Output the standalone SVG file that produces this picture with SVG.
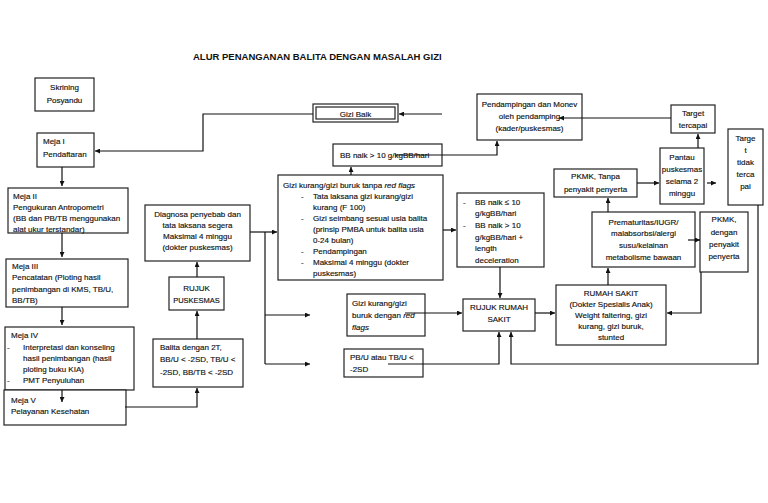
<svg xmlns="http://www.w3.org/2000/svg" width="768" height="503" viewBox="0 0 768 503">
<defs>
<marker id="ah" viewBox="0 0 10 10" refX="10" refY="5" markerWidth="5" markerHeight="5" orient="auto" markerUnits="userSpaceOnUse">
<path d="M0,0 L10,5 L0,10 z" fill="#111"/>
</marker>
<style>
.box{fill:#fff;stroke:#222;stroke-width:1.2}
text{font-family:"Liberation Sans",Arial,sans-serif;font-size:8px;fill:#111;stroke:#111;stroke-width:0.15}
.c{text-anchor:middle}
.i{font-style:italic}
.title{font-weight:bold;font-size:9.5px;stroke-width:0}
#connectors path{fill:none;stroke:#111;stroke-width:1.2}
.a{marker-end:url(#ah)}
</style>
</defs>
<rect width="768" height="503" fill="#fff"/>
<text class="title" x="193" y="60">ALUR PENANGANAN BALITA DENGAN MASALAH GIZI</text>

<g id="skrining">
<rect class="box" x="35" y="78" width="59" height="33"/>
<text class="c" x="64.5" y="90">Skrining</text>
<text class="c" x="64.5" y="103">Posyandu</text>
</g>
<g id="meja1">
<rect class="box" x="37" y="133" width="57" height="34"/>
<text x="43" y="144">Meja I</text>
<text x="43" y="157">Pendaftaran</text>
</g>
<g id="meja2">
<rect class="box" x="8" y="188" width="120" height="45"/>
<text x="13" y="199">Meja II</text>
<text x="13" y="210">Pengukuran Antropometri</text>
<text x="13" y="221">(BB dan PB/TB menggunakan</text>
<text x="13" y="232">alat ukur terstandar)</text>
</g>
<g id="meja3">
<rect class="box" x="6" y="259" width="122" height="48"/>
<text x="12" y="269">Meja III</text>
<text x="12" y="280">Pencatatan (Ploting hasil</text>
<text x="12" y="292">penimbangan di KMS, TB/U,</text>
<text x="12" y="303">BB/TB)</text>
</g>
<g id="meja4">
<rect class="box" x="5" y="327" width="129" height="63"/>
<text x="11" y="338">Meja IV</text>
<text x="7" y="350">-</text>
<text x="23" y="350">Interpretasi dan konseling</text>
<text x="23" y="361">hasil penimbangan (hasil</text>
<text x="23" y="372">ploting buku KIA)</text>
<text x="7" y="383">-</text>
<text x="23" y="383">PMT Penyuluhan</text>
</g>
<g id="meja5">
<rect class="box" x="4" y="390" width="122" height="35"/>
<text x="11" y="403">Meja V</text>
<text x="11" y="414">Pelayanan Kesehatan</text>
</g>
<g id="balita">
<rect class="box" x="153" y="339" width="90" height="48"/>
<text x="160" y="350">Balita dengan 2T,</text>
<text x="160" y="362">BB/U &lt; -2SD, TB/U &lt;</text>
<text x="160" y="375">-2SD, BB/TB &lt; -2SD</text>
</g>
<g id="rujuk-puskesmas">
<rect class="box" x="169" y="277" width="55" height="33"/>
<text class="c" x="196.5" y="291">RUJUK</text>
<text class="c" x="196.5" y="303" style="font-size:7.5px">PUSKESMAS</text>
</g>
<g id="diagnosa">
<rect class="box" x="145" y="205" width="105" height="56"/>
<text class="c" x="197.5" y="217">Diagnosa penyebab dan</text>
<text class="c" x="197.5" y="228">tata laksana segera</text>
<text class="c" x="197.5" y="239">Maksimal 4 minggu</text>
<text class="c" x="197.5" y="250">(dokter puskesmas)</text>
</g>
<g id="gizi-kurang-tanpa">
<rect class="box" x="278" y="175" width="165" height="105"/>
<text x="283" y="188">Gizi kurang/gizi buruk tanpa <tspan class="i">red flags</tspan></text>
<text x="301" y="199">-</text>
<text x="313" y="199">Tata laksana gizi kurang/gizi</text>
<text x="313" y="210">kurang (F 100)</text>
<text x="301" y="221">-</text>
<text x="313" y="221">Gizi seimbang sesuai usia balita</text>
<text x="313" y="232">(prinsip PMBA untuk balita usia</text>
<text x="313" y="243">0-24 bulan)</text>
<text x="301" y="254">-</text>
<text x="313" y="254">Pendampingan</text>
<text x="301" y="265">-</text>
<text x="313" y="265">Maksimal 4 minggu (dokter</text>
<text x="313" y="276">puskesmas)</text>
</g>
<g id="bb-naik-lebih">
<rect class="box" x="333" y="144" width="109" height="22"/>
<text x="340" y="158">BB naik &gt; 10 g/kgBB/hari</text>
</g>
<g id="gizi-baik">
<rect class="box" x="313" y="104" width="85" height="18"/>
<rect class="box" x="316" y="107" width="79" height="12"/>
<text class="c" x="355.5" y="116.5">Gizi Baik</text>
</g>
<g id="pendampingan">
<rect class="box" x="477" y="94" width="105" height="46"/>
<text class="c" x="529.5" y="107">Pendampingan dan Monev</text>
<text class="c" x="529.5" y="119">oleh pendamping</text>
<text class="c" x="529.5" y="131">(kader/puskesmas)</text>
</g>
<g id="target-tercapai">
<rect class="box" x="671" y="105" width="44" height="28"/>
<text class="c" x="693" y="116">Target</text>
<text class="c" x="693" y="128">tercapai</text>
</g>
<g id="target-tidak">
<rect class="box" x="728" y="129" width="35" height="76"/>
<text class="c" x="745.5" y="141">Targe</text>
<text class="c" x="745.5" y="153">t</text>
<text class="c" x="745.5" y="165">tidak</text>
<text class="c" x="745.5" y="177">terca</text>
<text class="c" x="745.5" y="189">pai</text>
</g>
<g id="pantau">
<rect class="box" x="660" y="148" width="44" height="56"/>
<text class="c" x="682" y="160">Pantau</text>
<text class="c" x="682" y="172">puskesmas</text>
<text class="c" x="682" y="184">selama 2</text>
<text class="c" x="682" y="196">minggu</text>
</g>
<g id="pkmk-tanpa">
<rect class="box" x="554" y="169" width="83" height="28"/>
<text class="c" x="595.5" y="179">PKMK, Tanpa</text>
<text class="c" x="595.5" y="192">penyakit penyerta</text>
</g>
<g id="prematuritas">
<rect class="box" x="592" y="212" width="103" height="55"/>
<text class="c" x="643.5" y="225">Prematuritas/IUGR/</text>
<text class="c" x="643.5" y="236">malabsorbsi/alergi</text>
<text class="c" x="643.5" y="248">susu/kelainan</text>
<text class="c" x="643.5" y="260">metabolisme bawaan</text>
</g>
<g id="pkmk-dengan">
<rect class="box" x="700" y="212" width="48" height="60"/>
<text class="c" x="724" y="222">PKMK,</text>
<text class="c" x="724" y="235">dengan</text>
<text class="c" x="724" y="247">penyakit</text>
<text class="c" x="724" y="259">penyerta</text>
</g>
<g id="rumah-sakit">
<rect class="box" x="556" y="285" width="110" height="60"/>
<text class="c" x="611" y="296">RUMAH SAKIT</text>
<text class="c" x="611" y="307">(Dokter Spesialis Anak)</text>
<text class="c" x="611" y="318">Weight faltering, gizi</text>
<text class="c" x="611" y="329">kurang, gizi buruk,</text>
<text class="c" x="611" y="340">stunted</text>
</g>
<g id="rujuk-rs">
<rect class="box" x="463" y="299" width="72" height="32"/>
<text class="c" x="499" y="310">RUJUK RUMAH</text>
<text class="c" x="499" y="322">SAKIT</text>
</g>
<g id="bb-naik-kurang">
<rect class="box" x="457" y="193" width="87" height="74"/>
<text x="463" y="205">-</text>
<text x="475" y="205">BB naik ≤ 10</text>
<text x="475" y="216">g/kgBB/hari</text>
<text x="463" y="228">-</text>
<text x="475" y="228">BB naik &gt; 10</text>
<text x="475" y="240">g/kgBB/hari +</text>
<text x="475" y="251">length</text>
<text x="475" y="263">deceleration</text>
</g>
<g id="red-flags">
<rect class="box" x="347" y="294" width="78" height="42"/>
<text x="352" y="306">Gizi kurang/gizi</text>
<text x="352" y="318">buruk dengan <tspan class="i">red</tspan></text>
<text class="i" x="352" y="330">flags</text>
</g>
<g id="pbu">
<rect class="box" x="344" y="349" width="79" height="28"/>
<text x="350" y="360">PB/U atau TB/U &lt;</text>
<text x="350" y="372">-2SD</text>
</g>

<g id="connectors">
<path class="a" d="M62,167 V186"/>
<path class="a" d="M62,233 V257"/>
<path class="a" d="M62,307 V325"/>
<path class="a" d="M62,390 V402"/>
<path class="a" d="M125,407 H197 V388"/>
<path class="a" d="M197,339 V311"/>
<path class="a" d="M197,277 V262"/>
<path class="a" d="M250,232 H277"/>
<path d="M265,232 V364"/>
<path class="a" d="M265,315 H310"/>
<path class="a" d="M265,364 H310"/>
<path class="a" d="M351,175 V167"/>
<path class="a" d="M395,155 H497 V141"/>
<path class="a" d="M442,114 H399"/>
<path class="a" d="M313,114 H203 V151 H95"/>
<path class="a" d="M443,230 H456"/>
<path class="a" d="M500,267 V298"/>
<path class="a" d="M405,313 H462"/>
<path class="a" d="M388,364 H499 V332"/>
<path class="a" d="M535,313 H555"/>
<path class="a" d="M608,285 V268"/>
<path class="a" d="M608,212 V198"/>
<path class="a" d="M688,240 H700"/>
<path class="a" d="M701,272 V313 H667"/>
<path class="a" d="M637,183 H659"/>
<path class="a" d="M698,148 V134"/>
<path class="a" d="M707,183 H716"/>
<path class="a" d="M671,118 H559"/>
<path class="a" d="M758,205 V364 H511 V332"/>
</g>
</svg>
